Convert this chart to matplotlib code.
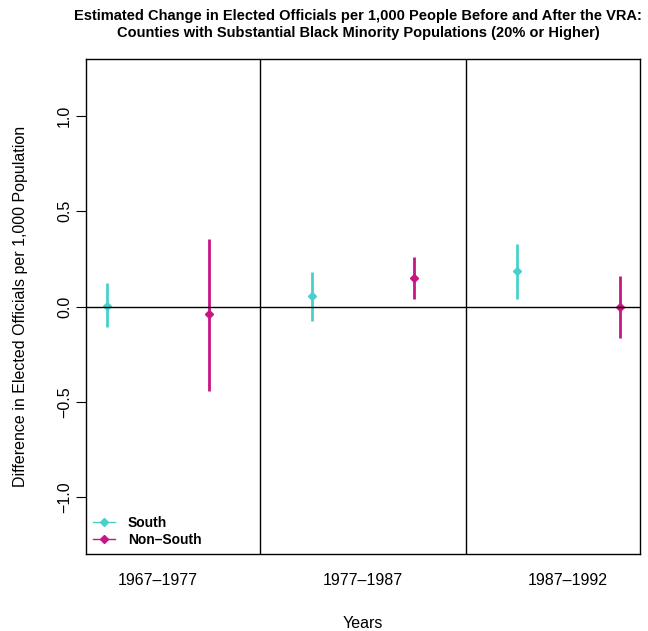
import matplotlib.pyplot as plt
from matplotlib.lines import Line2D

plt.rcParams['font.family'] = ['Liberation Sans', 'DejaVu Sans']

periods = ["1967\u20131977", "1977\u20131987", "1987\u20131992"]
groups = ["South", "Non\u2013South"]
colors = ["#48D1CC", "#C71585"]

# point estimates and 95% intervals, per period
south_est = [0.005, 0.053, 0.184]
south_lo = [-0.11, -0.077, 0.038]
south_hi = [0.125, 0.18, 0.326]
nonsouth_est = [-0.04, 0.152, -0.002]
nonsouth_lo = [-0.445, 0.042, -0.163]
nonsouth_hi = [0.355, 0.26, 0.158]

fig = plt.figure(figsize=(6.48, 6.31), dpi=100)
ax = fig.add_axes([0.1327, 0.122, 0.855, 0.7845])

series = [(south_est, south_lo, south_hi), (nonsouth_est, nonsouth_lo, nonsouth_hi)]
for g, (est, lo, hi) in enumerate(series):
    xs = [2 * i + 1 + g for i in range(len(periods))]
    ax.vlines(xs, lo, hi, color=colors[g], lw=2)
    ax.plot(xs, est, ls='none', marker='D', ms=4, color=colors[g])

ax.axhline(0, color='black', lw=1)
for b in [2.5, 4.5]:
    ax.axvline(b, color='black', lw=1)

ax.set_xlim(0.8, 6.2)
ax.set_ylim(-1.3, 1.3)
ax.set_xticks([1.5, 3.5, 5.5])
ax.set_xticklabels(periods, fontsize=11.5)
ax.tick_params(axis='x', length=0, pad=14)
ax.set_yticks([-1.0, -0.5, 0.0, 0.5, 1.0])
ax.set_yticklabels(["\u22121.0", "\u22120.5", "0.0", "0.5", "1.0"], fontsize=11.5,
                   rotation=90, va='center')
ax.tick_params(axis='y', length=7, pad=3)
for s in ax.spines.values():
    s.set_linewidth(1)

ax.set_xlabel("Years", fontsize=11.5, labelpad=20)
ax.set_ylabel("Difference in Elected Officials per 1,000 Population", fontsize=11.5, labelpad=21)

fig.suptitle("Estimated Change in Elected Officials per 1,000 People Before and After the VRA:\n"
             "Counties with Substantial Black Minority Populations (20% or Higher)",
             fontsize=10.5, fontweight='bold', x=0.553, y=0.985, linespacing=1.2)

handles = [Line2D([], [], color=c, lw=1, marker='D', ms=4) for c in colors]
ax.legend(handles, groups, loc='lower left', frameon=False, prop={'weight': 'bold', 'size': 10},
          handlelength=1.6, handletextpad=0.9, borderaxespad=0.3, labelspacing=0.2,
          borderpad=0.2)

plt.savefig("out.png", dpi=100)
